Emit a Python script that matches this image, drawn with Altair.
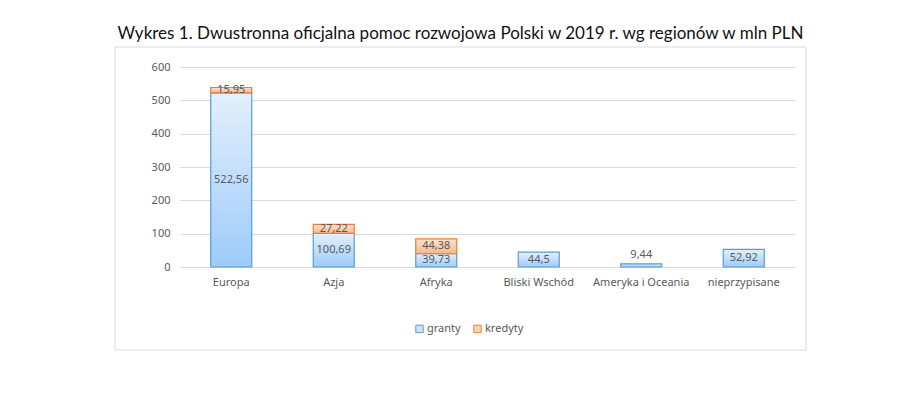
import altair as alt
import pandas as pd

regions = ["Europa", "Azja", "Afryka", "Bliski Wschód", "Ameryka i Oceania", "nieprzypisane"]
granty = [522.56, 100.69, 39.73, 44.5, 9.44, 52.92]
kredyty = [15.95, 27.22, 44.38, 0, 0, 0]
y_ticks = [0, 100, 200, 300, 400, 500, 600]
series = ["granty", "kredyty"]
title = "Wykres 1. Dwustronna oficjalna pomoc rozwojowa Polski w 2019 r. wg regionów w mln PLN"


def fmt(v):
    return f"{v}".replace(".", ",")


df = pd.DataFrame({"region": regions, "granty": granty, "kredyty": kredyty})
df["total"] = df["granty"] + df["kredyty"]
df["g_label"] = [fmt(v) for v in granty]
df["k_label"] = [fmt(v) for v in kredyty]
df["g_pos"] = [g / 2 if g > 20 else g + 26 for g in granty]
df["k_pos"] = [g + k / 2 for g, k in zip(granty, kredyty)]

blue_grad = alt.LinearGradient(
    gradient="linear", x1=0, y1=0, x2=0, y2=1,
    stops=[alt.GradientStop(color="#e4f0fc", offset=0), alt.GradientStop(color="#9ccbfa", offset=1)],
)
orange_grad = alt.LinearGradient(
    gradient="linear", x1=0, y1=0, x2=0, y2=1,
    stops=[alt.GradientStop(color="#fde3d2", offset=0), alt.GradientStop(color="#f9b68a", offset=1)],
)

x_enc = alt.X(
    "region:N", sort=regions, title=None,
    scale=alt.Scale(paddingInner=0.6, paddingOuter=0.3),
    axis=alt.Axis(labelAngle=0, ticks=False, domainColor="#d9d9d9", labelPadding=9),
)
y_scale = alt.Scale(domain=[0, 600], nice=False)

base = alt.Chart(df)

g_bars = base.mark_bar(fill=blue_grad, stroke="#5b9bd5", strokeWidth=1.2).encode(
    x=x_enc,
    y=alt.Y("granty:Q", scale=y_scale, title=None,
            axis=alt.Axis(values=y_ticks, tickCount=7, ticks=False, domain=False,
                          gridColor="#d9d9d9", labelPadding=10, labelOverlap=False)),
)
k_bars = base.mark_bar(fill=orange_grad, stroke="#ed7d31", strokeWidth=1.2).encode(
    x=alt.X("region:N", sort=regions),
    y=alt.Y("granty:Q", scale=y_scale),
    y2="total:Q",
).transform_filter("datum.kredyty > 0")

g_text = base.mark_text(font="Noto Sans", fontSize=11, color="#595959").encode(
    x=alt.X("region:N", sort=regions),
    y=alt.Y("g_pos:Q", scale=y_scale),
    text="g_label:N",
)
k_text = base.mark_text(font="Noto Sans", fontSize=11, color="#595959").encode(
    x=alt.X("region:N", sort=regions),
    y=alt.Y("k_pos:Q", scale=y_scale),
    text="k_label:N",
).transform_filter("datum.kredyty > 0")

legend_df = pd.DataFrame({"series": series})
leg_common = dict(
    orient="none", legendX=234, legendY=256, direction="horizontal", title=None,
    symbolType="square", symbolSize=55, symbolOpacity=1, symbolStrokeWidth=1,
    labelFont="Noto Sans", labelFontSize=11, labelColor="#595959", columnPadding=10,
    labelOffset=2,
)
legend_layer = alt.Chart(legend_df).mark_point(shape="square", opacity=0, filled=True).encode(
    fill=alt.Fill("series:N", scale=alt.Scale(domain=series, range=["#cfe4f9", "#fbd3ba"]),
                  legend=alt.Legend(**leg_common)),
    stroke=alt.Stroke("series:N", scale=alt.Scale(domain=series, range=["#5b9bd5", "#ed7d31"]),
                      legend=alt.Legend(**leg_common)),
)

frame = alt.Chart(pd.DataFrame({"a": [1]})).mark_rect(
    fillOpacity=0, stroke="#d9d9d9", strokeWidth=1
).encode(
    x=alt.value(-65), x2=alt.value(626), y=alt.value(-20), y2=alt.value(283)
)

chart = alt.layer(frame, g_bars, k_bars, g_text, k_text, legend_layer).properties(
    width=615, height=200,
    autosize=alt.AutoSizeParams(type="none"),
    padding={"left": 172, "top": 59, "right": 95, "bottom": 120},
    title=alt.TitleParams(title, font="Lato", fontSize=17, fontWeight="normal", color="#111111",
                          anchor="middle", dx=-27, offset=4),
).configure_view(stroke=None).configure_axis(
    labelFont="Noto Sans", labelFontSize=11, labelColor="#595959", grid=True,
).configure_axisX(grid=False)

chart.save("out.html", embed_options={"renderer": "svg", "actions": False})
